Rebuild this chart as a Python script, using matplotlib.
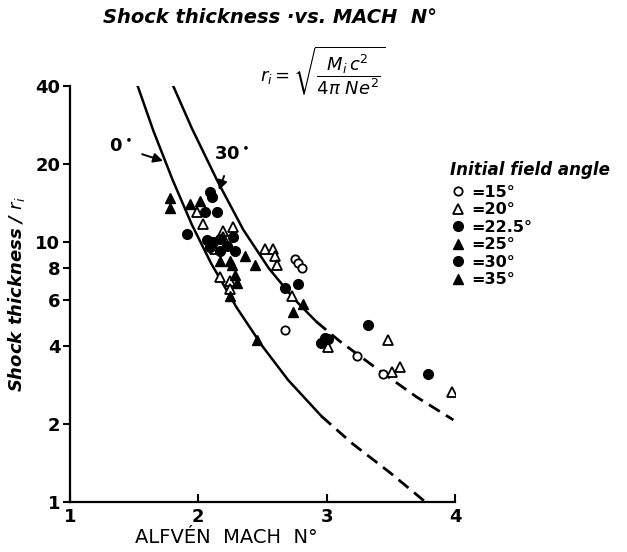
import matplotlib.pyplot as plt
from matplotlib.lines import Line2D

# theory curves (solid part, then dashed part)
left_solid_x = [1.528, 1.65, 1.8, 1.95, 2.1, 2.3, 2.5, 2.7, 2.96]
left_solid_y = [40.0, 26.9, 17.4, 11.7, 8.3, 5.6, 3.98, 2.95, 2.14]
left_dash_x = [2.96, 3.2, 3.5, 3.77]
left_dash_y = [2.14, 1.68, 1.29, 1.0]

right_solid_x = [1.805, 1.95, 2.15, 2.35, 2.55, 2.75, 2.92]
right_solid_y = [40.0, 27.5, 17.2, 11.2, 7.94, 6.03, 4.95]
right_dash_x = [2.92, 3.1, 3.4, 3.7, 3.988]
right_dash_y = [4.95, 4.17, 3.24, 2.54, 2.07]

# measurements by initial field angle
a15_x = [2.754, 2.78, 2.806, 2.676, 3.235, 3.437]
a15_y = [8.66, 8.3, 8.0, 4.6, 3.64, 3.1]

a20_x = [1.987, 2.039, 2.195, 2.273, 2.13, 2.195, 2.52, 2.169, 2.247, 2.247,
         2.585, 2.598, 2.611, 2.728, 3.013, 3.48, 3.507, 3.572, 3.975]
a20_y = [13.1, 11.8, 11.1, 11.5, 9.45, 10.5, 9.4, 7.35, 7.1, 6.6,
         9.45, 8.9, 8.2, 6.2, 3.96, 4.2, 3.17, 3.3, 2.66]

a225_x = [1.91, 2.052, 2.065, 2.117, 2.091, 2.169, 2.221, 2.169]
a225_y = [10.8, 13.1, 10.2, 10.0, 9.6, 10.3, 9.7, 9.3]

a25_x = [1.78, 1.78, 1.935, 2.013, 2.169, 2.247, 2.26]
a25_y = [14.8, 13.6, 14.1, 14.5, 8.5, 8.5, 8.2]

a30_x = [2.09, 2.104, 2.143, 2.273, 2.286, 2.676, 2.78, 2.987, 2.96, 3.01,
         3.325, 3.793]
a30_y = [15.6, 14.9, 13.1, 10.5, 9.3, 6.7, 6.9, 4.3, 4.1, 4.26,
         4.8, 3.1]

a35_x = [2.364, 2.442, 2.286, 2.299, 2.247, 2.455, 2.818, 2.74]
a35_y = [8.9, 8.2, 7.5, 7.0, 6.2, 4.2, 5.8, 5.4]

legend_labels = ["=15°", "=20°", "=22.5°", "=25°", "=30°", "=35°"]

fig = plt.figure(figsize=(6.27, 5.52), dpi=100)
ax = fig.add_axes([0.1116, 0.0906, 0.614, 0.7534])

dash = (0, (4.6, 2.6))
ax.plot(left_solid_x, left_solid_y, color="k", lw=1.8)
ax.plot(left_dash_x, left_dash_y, color="k", lw=2.0, linestyle=dash)
ax.plot(right_solid_x, right_solid_y, color="k", lw=1.8)
ax.plot(right_dash_x, right_dash_y, color="k", lw=2.0, linestyle=dash)

ax.plot(a15_x, a15_y, "o", ms=6, mfc="white", mec="k", mew=1.3, ls="none")
ax.plot(a20_x, a20_y, "^", ms=6.5, mfc="white", mec="k", mew=1.3, ls="none")
ax.plot(a225_x, a225_y, "o", ms=7, color="k", ls="none")
ax.plot(a25_x, a25_y, "^", ms=7, color="k", ls="none")
ax.plot(a30_x, a30_y, "o", ms=7, color="k", ls="none")
ax.plot(a35_x, a35_y, "^", ms=7, color="k", ls="none")

ax.set_yscale("log")
ax.set_xlim(1, 4)
ax.set_ylim(1, 40)
ax.set_xticks([1, 2, 3, 4])
ax.set_xticklabels(["1", "2", "3", "4"])
ax.set_yticks([1, 2, 4, 6, 8, 10, 20, 40])
ax.set_yticklabels(["1", "2", "4", "6", "8", "10", "20", "40"])
ax.minorticks_off()
for s in ["top", "right"]:
    ax.spines[s].set_visible(False)
for s in ["left", "bottom"]:
    ax.spines[s].set_linewidth(1.6)
ax.tick_params(axis="y", direction="out", length=5, width=1.5,
               labelsize=13, pad=2)
ax.tick_params(axis="x", direction="in", length=6, width=1.5,
               labelsize=13, pad=4)
for lab in ax.get_xticklabels() + ax.get_yticklabels():
    lab.set_fontweight("bold")

ax.set_xlabel("ALFVÉN  MACH  N°", fontsize=14, fontweight="medium")
ax.xaxis.set_label_coords(0.405, -0.062)
ax.set_ylabel("Shock thickness / $r_i$", fontsize=13, fontweight="bold",
              style="italic", labelpad=6)

# angle annotations on the curves
ax.annotate("0$^\\bullet$", xy=(1.725, 20.6), xytext=(1.39, 23.3),
            fontsize=13, fontweight="bold", ha="center", va="center",
            arrowprops=dict(arrowstyle="-|>", color="k", lw=1.4,
                            mutation_scale=14, shrinkA=6, shrinkB=0))
ax.annotate("30$^\\bullet$", xy=(2.161, 15.9), xytext=(2.26, 21.7),
            fontsize=13, fontweight="bold", ha="center", va="center",
            arrowprops=dict(arrowstyle="-|>", color="k", lw=1.4,
                            mutation_scale=14, shrinkA=7, shrinkB=0))

fig.text(0.43, 0.968, "Shock thickness ·vs. MACH  N°", fontsize=14,
         fontweight="bold", style="italic", ha="center", va="center")
fig.text(0.515, 0.873, r"$r_i = \sqrt{\dfrac{M_i\,c^2}{4\pi\ Ne^2}}$",
         fontsize=13, ha="center", va="center")

# legend
fig.text(0.845, 0.692, "Initial field angle", fontsize=12, fontweight="bold",
         style="italic", ha="center", va="center")
handles = [
    Line2D([], [], marker="o", ls="none", ms=6, mfc="white", mec="k", mew=1.3),
    Line2D([], [], marker="^", ls="none", ms=6.5, mfc="white", mec="k", mew=1.3),
    Line2D([], [], marker="o", ls="none", ms=7, color="k"),
    Line2D([], [], marker="^", ls="none", ms=7, color="k"),
    Line2D([], [], marker="o", ls="none", ms=7, color="k"),
    Line2D([], [], marker="^", ls="none", ms=7, color="k"),
]
leg = fig.legend(handles, legend_labels, loc="upper left",
                 bbox_to_anchor=(0.705, 0.68), frameon=False,
                 prop=dict(size=11.5, weight="bold"), handlelength=1.0,
                 handletextpad=0.3, labelspacing=0.16, borderpad=0)

fig.savefig("out.png", dpi=100)
